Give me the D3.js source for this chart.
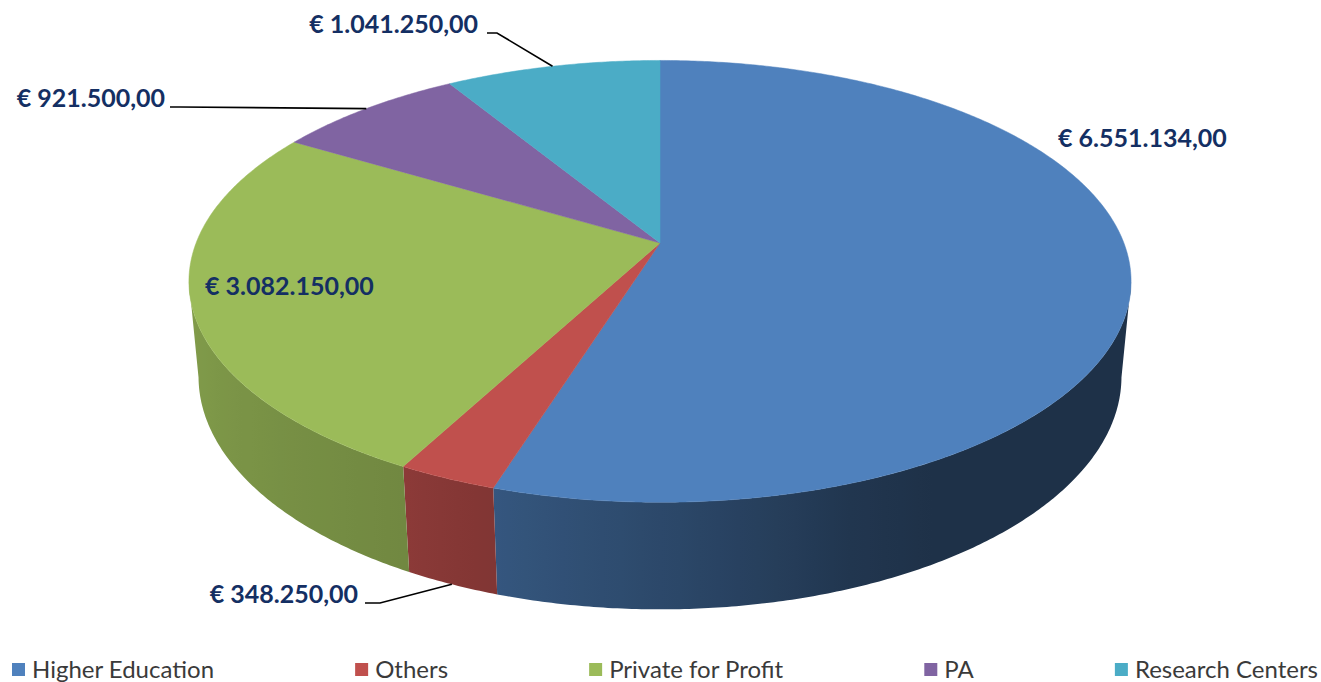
<!DOCTYPE html>
<html>
<head>
<meta charset="utf-8">
<script src="https://cdn.jsdelivr.net/npm/d3@7"></script>
<style>
  body { margin: 0; background: #fff; }
  svg { display: block; }
</style>
</head>
<body>
<div id="chart"></div>
<script>
// Data
const categories = ["Higher Education", "Others", "Private for Profit", "PA", "Research Centers"];
const amounts = [6551134, 348250, 3082150, 921500, 1041250];
const colors = ["#4f81bd", "#c0504d", "#9bbb59", "#8064a2", "#4bacc6"];

// Layout
const W = 1321, H = 682;
const cx = 660, cy = 243;            // pie centre on screen
const F = 2421, D = 5.13;            // perspective focal / camera distance (radius = 1)
const xScale = 0.983;                // horizontal squeeze
const tilt = 27 * Math.PI / 180;     // elevation
const thick = 0.228;                 // pie height (in radius units)
const sinE = Math.sin(tilt), cosE = Math.cos(tilt);
const wallFrom = 100, wallTo = 260;  // visible wall angles (deg)

// label placement (text anchor point + elbow of leader line)
const labelLayout = [
  { x: 1058, y: 147, anchor: "start" },
  { x: 358, y: 603, anchor: "end", elbow: [[365, 603], [380, 603]], bottom: true },
  { x: 205, y: 295, anchor: "start" },
  { x: 165, y: 107, anchor: "end", elbow: [[170, 107], [180, 107]] },
  { x: 478, y: 33, anchor: "end", elbow: [[487, 33], [497, 33]] }
];

const euro = d3.formatLocale({ decimal: ",", thousands: ".", grouping: [3], currency: ["€ ", ""] }).format("$,.2f");
const rad = Math.PI / 180;

// project angle (rad, clockwise from back) and height y onto screen
function project(a, y) {
  const up = Math.cos(a) * sinE + y * cosE;
  const depth = D + Math.cos(a) * cosE - y * sinE;
  return [cx + xScale * F * Math.sin(a) / depth, cy - F * up / depth];
}

// wall shading factor by angle (deg)
const shade = d3.scaleLinear()
  .domain([90, 150, 160, 175, 197.5, 208, 265, 280])
  .range([0.38, 0.38, 0.42, 0.53, 0.67, 0.73, 0.86, 0.87])
  .clamp(true);

const svg = d3.select("#chart").append("svg").attr("width", W).attr("height", H)
  .style("font-family", "Lato, 'Open Sans', sans-serif");
const defs = svg.append("defs");

const arcs = d3.pie().sort(null).value(d => d)(amounts);
const line = d3.line();

// Draw Side Walls (one path per slice with horizontal shading gradient)
arcs.forEach((arc, i) => {
  const a0 = Math.max(arc.startAngle, wallFrom * rad), a1 = Math.min(arc.endAngle, wallTo * rad);
  if (a1 <= a0) return;
  const n = Math.max(2, Math.ceil((a1 - a0) / (0.5 * rad)));
  const angs = d3.range(n + 1).map(j => a0 + (a1 - a0) * j / n);
  const top = angs.map(a => project(a, 0)), bot = angs.map(a => project(a, -thick)).reverse();
  const xa = top[0][0], xb = top[top.length - 1][0];
  const grad = defs.append("linearGradient").attr("id", "wall" + i)
    .attr("gradientUnits", "userSpaceOnUse").attr("x1", xa).attr("x2", xb).attr("y1", 0).attr("y2", 0);
  const c = d3.rgb(colors[i]);
  angs.filter((a, j) => j % 4 === 0 || j === n).forEach(a => {
    const k = shade(a / rad);
    grad.append("stop").attr("offset", (project(a, 0)[0] - xa) / (xb - xa))
      .attr("stop-color", d3.rgb(c.r * k, c.g * k, c.b * k).formatHex());
  });
  svg.append("path").attr("d", line(top.concat(bot)) + "Z")
    .attr("fill", "url(#wall" + i + ")");
});

// Draw Top Faces
svg.append("g").selectAll("path").data(arcs).enter().append("path")
  .attr("d", arc => {
    const pts = [[cx, cy]];
    const n = Math.max(2, Math.ceil((arc.endAngle - arc.startAngle) / (0.5 * rad)));
    for (let j = 0; j <= n; j++) pts.push(project(arc.startAngle + (arc.endAngle - arc.startAngle) * j / n, 0));
    return line(pts) + "Z";
  })
  .attr("fill", (d, i) => colors[i])
  .attr("stroke", (d, i) => colors[i]).attr("stroke-width", 0.5);

// Leader Lines
arcs.forEach((arc, i) => {
  const L = labelLayout[i];
  if (!L.elbow) return;
  const mid = (arc.startAngle + arc.endAngle) / 2;
  const end = project(mid, L.bottom ? -thick : 0);
  svg.append("path").attr("d", line(L.elbow.concat([end])))
    .attr("fill", "none").attr("stroke", "#000").attr("stroke-width", 1.6);
});

// Data Labels
svg.append("g").selectAll("text").data(arcs).enter().append("text")
  .attr("x", (d, i) => labelLayout[i].x).attr("y", (d, i) => labelLayout[i].y)
  .attr("text-anchor", (d, i) => labelLayout[i].anchor)
  .attr("font-size", 25).attr("font-weight", "bold").attr("fill", "#142f63")
  .text(d => euro(d.value));

// Legend
const legend = svg.append("g");
const items = legend.selectAll("g").data(categories).enter().append("g");
items.append("rect").attr("y", 663).attr("width", 13).attr("height", 13).attr("fill", (d, i) => colors[i]);
items.append("text").attr("x", 20).attr("y", 678).attr("font-size", 24).attr("fill", "#3a3a3a").text(d => d);
const widths = [];
items.select("text").each(function() { widths.push(20 + this.getComputedTextLength()); });
const x0 = 12, x1 = 1318;
const gap = (x1 - x0 - d3.sum(widths)) / (categories.length - 1);
let pos = x0;
items.attr("transform", (d, i) => { const t = "translate(" + pos + ",0)"; pos += widths[i] + gap; return t; });
</script>
</body>
</html>
